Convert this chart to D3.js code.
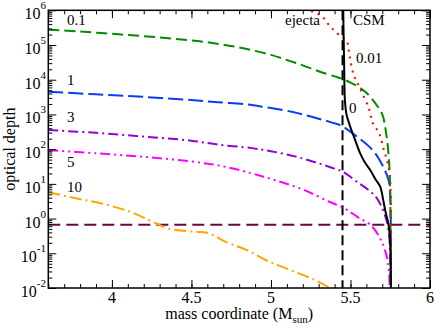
<html>
<head>
  <script src="https://d3js.org/d3.v7.min.js"></script>
  <style>
    body { margin: 0; background: #fff; }
  </style>
</head>
<body>
  <script>
    // optical depth vs mass coordinate, one curve per label
    let mass01 = [3.6, 3.8, 4.0, 4.2, 4.4, 4.6, 4.8, 5.0, 5.1, 5.2, 5.3, 5.4, 5.45, 5.5, 5.55, 5.6, 5.65, 5.7, 5.724, 5.742, 5.75, 5.752];
    let tau01  = [2.75e5, 2.45e5, 2.1e5, 1.8e5, 1.5e5, 1.2e5, 8.5e4, 5.2e4, 3.7e4, 2.6e4, 1.75e4, 1.25e4, 1.05e4, 8.3e3, 6.2e3, 4.2e3, 2.3e3, 1e3, 290, 50, 4, 1e-3];

    let mass001 = [5.22, 5.245, 5.32, 5.36, 5.415, 5.477, 5.493, 5.52, 5.56, 5.615, 5.64, 5.68, 5.71, 5.735, 5.75, 5.752];
    let tau001  = [1.3e6, 1e6, 6.8e5, 4e5, 2.2e5, 1.25e5, 5.2e4, 1.4e4, 5.7e3, 1.5e3, 560, 290, 95, 39, 12, 1e-3];

    let mass1 = [3.6, 3.9, 4.2, 4.5, 4.667, 4.85, 4.97, 5.13, 5.25, 5.38, 5.44, 5.53, 5.64, 5.7, 5.74, 5.75, 5.752];
    let tau1  = [4.5e3, 3.8e3, 3.2e3, 2.6e3, 2.25e3, 1.95e3, 1.6e3, 1.2e3, 870, 590, 480, 250, 93, 35, 12.6, 5, 1e-3];

    let mass3 = [3.6, 3.9, 4.2, 4.5, 4.667, 4.88, 5.0, 5.15, 5.3, 5.4, 5.45, 5.55, 5.62, 5.66, 5.7, 5.72, 5.735, 5.745, 5.75, 5.752];
    let tau3  = [355, 295, 230, 175, 135, 107, 87, 62, 39, 27.5, 22.4, 10.7, 6.3, 4.2, 2, 1.12, 0.63, 0.25, 0.063, 1e-3];

    let mass5 = [3.6, 3.9, 4.2, 4.5, 4.7, 4.88, 5.03, 5.21, 5.37, 5.46, 5.55, 5.63, 5.69, 5.72, 5.74, 5.75];
    let tau5  = [93, 76, 60, 44, 32, 20, 12.6, 6.6, 3, 2, 1.07, 0.63, 0.25, 0.11, 0.04, 1e-3];

    let mass10 = [3.6, 3.78, 3.93, 4.11, 4.28, 4.35, 4.51, 4.6, 4.72, 4.85, 4.97, 5.1, 5.23, 5.3, 5.37, 5.45];
    let tau10  = [5.7, 3.8, 2.75, 1.6, 0.72, 0.52, 0.42, 0.39, 0.21, 0.123, 0.063, 0.036, 0.021, 0.015, 0.01, 0.005];

    let mass0 = [5.454, 5.456, 5.46, 5.465, 5.475, 5.498, 5.53, 5.561, 5.59, 5.624, 5.66, 5.687, 5.707, 5.72, 5.738, 5.749, 5.753, 5.755];
    let tau0  = [2e6, 3.2e5, 3.2e4, 2.5e3, 1e3, 450, 180, 76, 42, 25, 13, 8.3, 3.2, 1.6, 0.72, 0.24, 0.05, 1e-3];

    let ejectaEdge = 5.45;
    let photosphere = 2 / 3;

    let xTicks = [4, 4.5, 5, 5.5, 6];
    let yTicks = [-2, -1, 0, 1, 2, 3, 4, 5, 6];

    let width = 436;
    let height = 327;
    let pLeft = 48.3, pRight = 430, pTop = 10.3, pBottom = 288;
    let serif = "'Liberation Serif', 'Times New Roman', serif";

    let svg = d3.select("body")
      .append("svg")
      .attr("width", width)
      .attr("height", height)
      .attr("font-family", serif);

    let x = d3.scaleLinear().domain([3.6, 6]).range([pLeft, pRight]);
    let y = d3.scaleLog().domain([1e-2, 1e6]).range([pBottom, pTop]);

    svg.append("clipPath").attr("id", "plot")
      .append("rect")
      .attr("x", pLeft).attr("y", pTop)
      .attr("width", pRight - pLeft).attr("height", pBottom - pTop);

    let lines = svg.append("g").attr("clip-path", "url(#plot)");

    let line = d3.line()
      .x(d => x(d[0]))
      .y(d => y(d[1]))
      .curve(d3.curveCatmullRom.alpha(0.5));

    let series = [
      { m: mass10, t: tau10, color: "#ffa500", dash: "12 4 2 4" },
      { m: mass5, t: tau5, color: "#ff00ff", dash: "10 4 2 4 2 4" },
      { m: mass3, t: tau3, color: "#9400d3", dash: "10 4 2 4" },
      { m: mass1, t: tau1, color: "#0a3cf5", dash: "15 5" },
      { m: mass01, t: tau01, color: "#008b00", dash: "11 5" },
      { m: mass001, t: tau001, color: "#ff0000", dash: "2 5" },
      { m: mass0, t: tau0, color: "#000000", dash: null }
    ];

    // reference lines
    lines.append("line")
      .attr("x1", pLeft).attr("x2", pRight)
      .attr("y1", y(photosphere)).attr("y2", y(photosphere))
      .attr("stroke", "#670748")
      .attr("stroke-width", 2)
      .attr("stroke-dasharray", "12 6");

    lines.append("line")
      .attr("x1", x(ejectaEdge)).attr("x2", x(ejectaEdge))
      .attr("y1", pTop).attr("y2", pBottom)
      .attr("stroke", "#000")
      .attr("stroke-width", 2)
      .attr("stroke-dasharray", "10 5");

    series.forEach(function(s) {
      lines.append("path")
        .datum(d3.zip(s.m, s.t))
        .attr("fill", "none")
        .attr("stroke", s.color)
        .attr("stroke-width", 2)
        .attr("stroke-dasharray", s.dash)
        .attr("d", line);
    });

    // axes: ticks point inward on all four sides
    let minorX = d3.range(36, 61).map(d => d / 10);
    let minorY = [];
    for (let k = -2; k < 6; k++) {
      for (let j = 2; j < 10; j++) minorY.push(j * Math.pow(10, k));
    }

    function frameAxis(axis, transform) {
      let g = svg.append("g").attr("transform", transform).call(axis);
      g.select(".domain").remove();
      g.selectAll("line").attr("stroke", "#000");
      g.selectAll("text").remove();
      return g;
    }

    frameAxis(d3.axisBottom(x).tickValues(minorX).tickSize(-4), `translate(0,${pBottom})`);
    frameAxis(d3.axisBottom(x).tickValues(xTicks).tickSize(-8), `translate(0,${pBottom})`);
    frameAxis(d3.axisTop(x).tickValues(minorX).tickSize(-4), `translate(0,${pTop})`);
    frameAxis(d3.axisTop(x).tickValues(xTicks).tickSize(-8), `translate(0,${pTop})`);

    let majorY = yTicks.map(k => Math.pow(10, k));
    frameAxis(d3.axisLeft(y).tickValues(minorY).tickSize(-4), `translate(${pLeft},0)`);
    frameAxis(d3.axisLeft(y).tickValues(majorY).tickSize(-8), `translate(${pLeft},0)`);
    frameAxis(d3.axisRight(y).tickValues(minorY).tickSize(-4), `translate(${pRight},0)`);
    frameAxis(d3.axisRight(y).tickValues(majorY).tickSize(-8), `translate(${pRight},0)`);

    svg.append("rect")
      .attr("x", pLeft).attr("y", pTop)
      .attr("width", pRight - pLeft).attr("height", pBottom - pTop)
      .attr("fill", "none")
      .attr("stroke", "#000")
      .attr("stroke-width", 1.5);

    // tick labels
    svg.append("g").selectAll("text")
      .data(xTicks)
      .enter()
      .append("text")
      .attr("x", d => x(d))
      .attr("y", pBottom + 15)
      .attr("text-anchor", "middle")
      .attr("font-size", 16)
      .text(d => d);

    let yLabels = svg.append("g").selectAll("text")
      .data(yTicks)
      .enter()
      .append("text")
      .attr("x", 46)
      .attr("y", d => y(Math.pow(10, d)) + 9)
      .attr("text-anchor", "end")
      .attr("font-size", 16);
    yLabels.append("tspan").text("10");
    yLabels.append("tspan").attr("font-size", 11).attr("dy", -10).text(d => d);

    // axis titles
    let xTitle = svg.append("text")
      .attr("x", (pLeft + pRight) / 2)
      .attr("y", 319)
      .attr("text-anchor", "middle")
      .attr("font-size", 16);
    xTitle.append("tspan").text("mass coordinate (M");
    xTitle.append("tspan").attr("font-size", 11).attr("dy", 4).text("sun");
    xTitle.append("tspan").attr("dy", -4).text(")");

    svg.append("text")
      .attr("transform", `translate(14.5,${(pTop + pBottom) / 2}) rotate(-90)`)
      .attr("text-anchor", "middle")
      .attr("font-size", 16)
      .text("optical depth");

    // curve labels
    let notes = [
      { t: "0.1", x: 67, y: 25 },
      { t: "1", x: 67, y: 85 },
      { t: "3", x: 67, y: 122 },
      { t: "5", x: 67, y: 167 },
      { t: "10", x: 67, y: 192 },
      { t: "ejecta", x: 285, y: 25 },
      { t: "CSM", x: 353, y: 25 },
      { t: "0.01", x: 356, y: 63 },
      { t: "0", x: 349, y: 113 }
    ];
    svg.append("g").selectAll("text")
      .data(notes)
      .enter()
      .append("text")
      .attr("x", d => d.x)
      .attr("y", d => d.y)
      .attr("font-size", 15)
      .text(d => d.t);
  </script>
</body>
</html>
